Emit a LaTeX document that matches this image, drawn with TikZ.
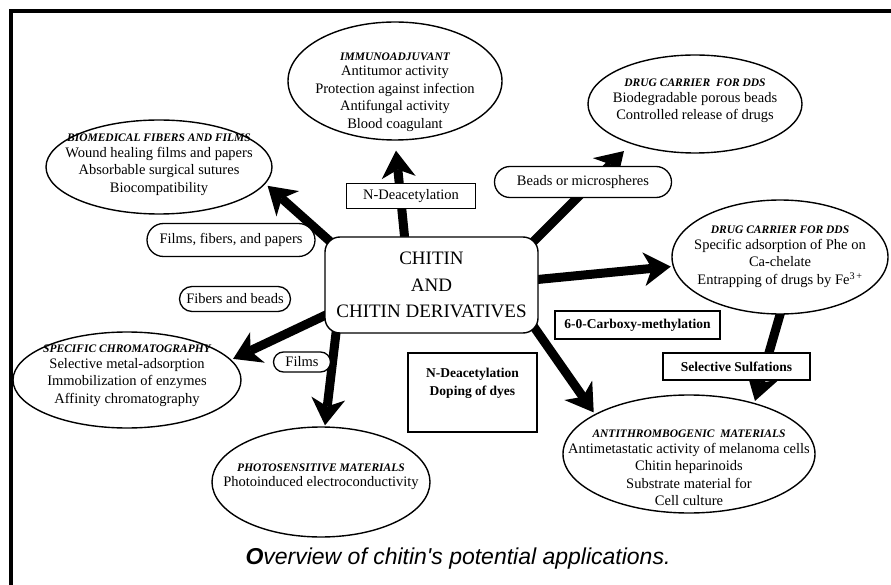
\documentclass[tikz,border=0pt]{standalone}
\usepackage{fontspec}
\setmainfont{Liberation Serif}
\newfontfamily\capfont{Liberation Sans}
\usetikzlibrary{shapes.geometric,shapes.misc,arrows.meta}
\pgfdeclarelayer{bg}
\pgfsetlayers{bg,main}
\newcommand\ettl[1]{{\fontsize{11.5}{14}\selectfont\bfseries\itshape #1}}
\tikzset{
  ell/.style={ellipse, draw, line width=1.4pt, fill=white, inner sep=0pt},
  etext/.style={align=center, font=\fontsize{14.5}{17.5}\selectfont, inner sep=0pt},
  boxlab/.style={draw, line width=1.3pt, fill=white, inner sep=0pt, align=center},
  pill/.style={rounded rectangle, draw, line width=1.3pt, fill=white, inner sep=0pt,
    font=\fontsize{14.5}{17}\selectfont},
  bigarrow/.style={line width=9pt, shorten <=-10pt,
    -{Stealth[length=27pt,width=34pt,inset=8pt,line width=0pt]}},
}
\begin{document}
\begin{tikzpicture}[x=1pt,y=-1pt]
\useasboundingbox (0,0) rectangle (891,585);
\draw[line width=3.8pt] (891,11.3) -- (10.7,11.3) -- (10.7,585);

% central box
\node[draw, line width=1.4pt, fill=white, rounded corners=15pt, minimum width=213pt,
  minimum height=96pt, inner sep=0pt, align=center,
  font=\fontsize{19}{26.5}\selectfont] (chitin) at (431.5,285)
  {CHITIN\\AND\\CHITIN DERIVATIVES};

% ellipses
\node[ell, minimum width=214pt, minimum height=118pt] (immuno) at (395,81) {};
\node[etext] (immunoT) at (395,92) {\ettl{IMMUNOADJUVANT}\\[-2pt]Antitumor activity\\Protection against infection\\Antifungal activity\\Blood coagulant};

\node[ell, minimum width=226pt, minimum height=94pt] (biomed) at (159,167) {};
\node[etext] (biomedT) at (159,165) {\ettl{BIOMEDICAL FIBERS AND FILMS}\\[-2pt]Wound healing films and papers\\Absorbable surgical sutures\\Biocompatibility};

\node[ell, minimum width=214pt, minimum height=98pt] (drugA) at (695,104) {};
\node[etext] (drugAT) at (695,101) {\ettl{DRUG CARRIER\ \ FOR DDS}\\[-2pt]Biodegradable porous beads\\Controlled release of drugs};

\node[ell, minimum width=216pt, minimum height=114pt] (drugB) at (780,257) {};
\node[etext] (drugBT) at (780,257) {\ettl{DRUG CARRIER FOR DDS}\\[-2pt]Specific adsorption of Phe on\\Ca-chelate\\Entrapping of drugs by Fe\textsuperscript{3\,+}};

\node[ell, minimum width=228pt, minimum height=96pt] (chrom) at (127,380) {};
\node[etext] (chromT) at (127,376) {\ettl{SPECIFIC CHROMATOGRAPHY}\\[-2pt]Selective metal-adsorption\\Immobilization of enzymes\\Affinity chromatography};

\node[ell, minimum width=218pt, minimum height=110pt] (photo) at (321,482) {};
\node[etext] (photoT) at (321,477) {\ettl{PHOTOSENSITIVE MATERIALS}\\[-2pt]Photoinduced electroconductivity};

\node[ell, minimum width=252pt, minimum height=118pt] (anti) at (689,454) {};
\node[etext] (antiT) at (689,468) {\ettl{ANTITHROMBOGENIC\ \ MATERIALS}\\[-2pt]Antimetastatic activity of melanoma cells\\Chitin heparinoids\\Substrate material for\\Cell culture};

% arrows (behind)
\begin{pgfonlayer}{bg}
\draw[bigarrow, shorten >=10pt] (chitin.119) -- (immuno.south);
\draw[bigarrow, shorten >=3pt] (chitin.north west) -- (biomed.-9);
\draw[bigarrow, shorten >=10pt] (chitin.north east) -- (drugA.212);
\draw[bigarrow, shorten >=2pt] (chitin.3) -- (drugB.185);
\draw[bigarrow, shorten >=2pt] (chitin.196) -- (chrom.11);
\draw[bigarrow, shorten >=1pt] (chitin.207) -- (photo.86);
\draw[bigarrow, shorten >=2pt] (chitin.south east) -- (anti.157);
\draw[bigarrow, shorten >=2pt] (drugB.south) -- (anti.38);
\end{pgfonlayer}

% labels
\node[boxlab, minimum width=129pt, minimum height=25pt, font=\fontsize{14.5}{17}\selectfont] (ndeacA) at (411,196) {N-Deacetylation};
\node[pill, minimum width=177pt, minimum height=31pt] (beads) at (583,182) {Beads or microspheres};
\node[pill, minimum width=168pt, minimum height=33pt] (ffp) at (231,240) {Films, fibers, and papers};
\node[pill, minimum width=111pt, minimum height=25pt] (fib) at (235,299) {Fibers and beads};
\node[pill, minimum width=57pt, minimum height=20pt] (films) at (302,362) {Films};
\node[boxlab, minimum width=129pt, minimum height=79pt, font=\fontsize{13.5}{18}\selectfont\bfseries] (ndeacB) at (472.5,392.5) {N-Deacetylation\\Doping of dyes\\[4pt]};
\node[boxlab, minimum width=165pt, minimum height=28pt, font=\fontsize{13.5}{16}\selectfont\bfseries] (carb) at (637.5,325) {6-0-Carboxy-methylation};
\node[boxlab, minimum width=147pt, minimum height=27pt, font=\fontsize{13.5}{16}\selectfont\bfseries] (sulf) at (736.5,366.5) {Selective Sulfations};

% caption
\node[font=\capfont\itshape\fontsize{23}{27}\selectfont, inner sep=0pt] (cap) at (458,559)
  {{\bfseries O}verview of chitin's potential applications.};
\end{tikzpicture}
\end{document}
